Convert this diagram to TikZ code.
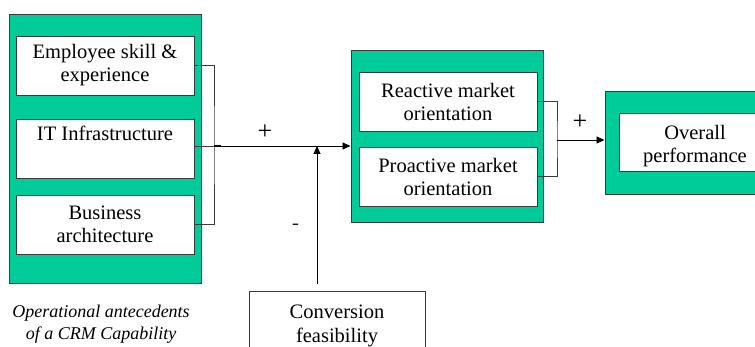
\documentclass[tikz,border=0pt]{standalone}
\usepackage{fontspec}
\setmainfont{Liberation Serif}
\usetikzlibrary{arrows.meta}
\definecolor{crmgreen}{HTML}{00CC99}
\definecolor{edgegray}{HTML}{3A3A3A}
\begin{document}
\begin{tikzpicture}[x=1pt,y=-1pt,
  outerbox/.style={draw=edgegray,line width=1pt,fill=crmgreen,minimum width=192pt,inner sep=0pt},
  innerbox/.style={draw=edgegray,line width=0.9pt,fill=white,minimum width=178pt,minimum height=59pt,inner sep=0pt,align=center,
     font=\rmfamily\fontsize{20.5}{23}\selectfont},
  conn/.style={draw=black,line width=0.9pt},
  arr/.style={conn,-{Triangle[length=8pt,width=7pt]}},
  sign/.style={font=\rmfamily\fontsize{26}{28}\selectfont,inner sep=0pt}]
\useasboundingbox (0,0) rectangle (755,347);
% left group
\node[outerbox,minimum height=269pt] (g1) at (105,149.5) {};
\node[innerbox] (e1) at (105,65.5) {Employee skill \&\\experience};
\node[innerbox] (e2) at (105,148.5) {IT Infrastructure\\\strut};
\node[innerbox] (e3) at (105,224.5) {Business\\architecture};
\node[align=center,inner sep=0pt,font=\rmfamily\fontsize{18}{22}\selectfont\itshape] (cap) at (101,324) {Operational antecedents\\of a CRM Capability};
% middle group
\node[outerbox,minimum height=172pt] (g2) at (447,137) {};
\node[innerbox] (r1) at (448,101.5) {Reactive market\\orientation};
\node[innerbox] (r2) at (448,176.5) {Proactive market\\orientation};
% right group
\node[outerbox,minimum width=180pt,minimum height=103pt] (g3) at (695,143.5) {};
\node[innerbox,minimum width=152pt,minimum height=58pt,
  label={[align=center,inner sep=0pt,yshift=-4pt,font=\rmfamily\fontsize{20.5}{23}\selectfont]center:Overall\\performance}] (o1) at (695,142) {};
% conversion
\node[draw=edgegray,line width=0.9pt,fill=white,minimum width=176pt,minimum height=70pt,inner sep=0pt,align=center,
  font=\rmfamily\fontsize{20.5}{24}\selectfont] (cv) at (337,326) {Conversion\\feasibility};
% connectors
\coordinate (b1) at (214,146);
\coordinate (b2) at (557,140);
\coordinate (cs) at (317,284);
\coordinate (cj) at (317,146);
\draw[conn,draw=edgegray] (e1.east) -| (b1) |- (e3.east);
\draw[conn,draw=edgegray] (e2.east |- b1) -- (b1);
\draw[arr] (b1) -- (g2.west |- b1);
\draw[line width=1.6pt] (b1) -- ++(7,0);
\draw[conn,draw=edgegray] (r1.east) -| (b2) |- (r2.east);
\draw[arr] (b2) -- (g3.west |- b2);
\draw[arr] (cs) -- (cj);
% signs
\node[sign] (p1) at (265,132) {+};
\node[sign] (p2) at (580,122) {+};
\node[sign,font=\sffamily\fontsize{22}{24}\selectfont] (m1) at (296,227) {-};
\end{tikzpicture}
\end{document}
